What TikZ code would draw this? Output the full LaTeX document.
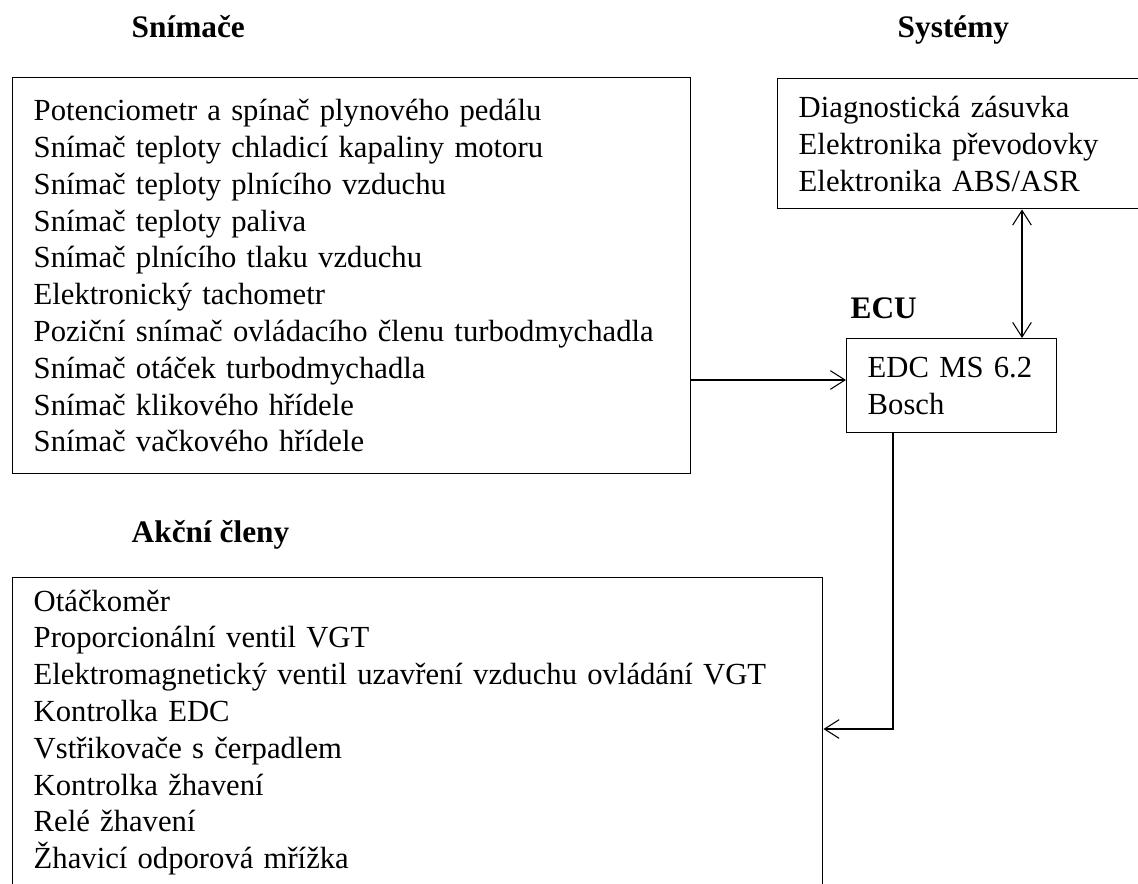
\documentclass[tikz,border=0pt]{standalone}
\usepackage{fontspec}
\setmainfont{Liberation Serif}
\usepackage{tikz}
\usetikzlibrary{positioning}
\usetikzlibrary{arrows.meta}
\tikzset{listbox/.style={draw, line width=1.1pt, align=left, anchor=north west, inner xsep=15.75pt, inner ysep=0pt, font=\fontsize{23}{27.6}\selectfont}}
\tikzset{title/.style={font=\fontsize{23.5}{28}\selectfont\bfseries, anchor=base west}}
\tikzset{spoj/.style={line width=0.8pt, >={Straight Barb[length=11pt, width=14pt, line width=0.8pt]}}}

\begin{document}
\begin{tikzpicture}[x=0.75pt, y=-0.75pt]
\useasboundingbox (0,0) rectangle (1138,883);
% nadpisy
\node[title] (t1) at (127,37) {Snímače};
\node[title] (t2) at (893,37) {Systémy};
\node[title] (t3) at (846,318) {ECU};
\node[title] (t4) at (127,542) {Akční členy};
% bloky
\node[listbox, text width=477pt, minimum height=297pt] (snim) at (12,77) {Potenciometr a spínač plynového pedálu\\
Snímač teploty chladicí kapaliny motoru\\
Snímač teploty plnícího vzduchu\\
Snímač teploty paliva\\
Snímač plnícího tlaku vzduchu\\
Elektronický tachometr\\
Poziční snímač ovládacího členu turbodmychadla\\
Snímač otáček turbodmychadla\\
Snímač klikového hřídele\\
Snímač vačkového hřídele};
\node[listbox, text width=240pt, minimum height=97.5pt] (sys) at (777,78) {Diagnostická zásuvka\\
Elektronika převodovky\\
Elektronika ABS/ASR};
\node[listbox, text width=126pt, minimum height=70.5pt] (ecu) at (846,338) {EDC MS 6.2\\
Bosch};
\node[listbox, text width=576pt, inner ysep=9pt] (akc) at (12,577) {Otáčkoměr\\
Proporcionální ventil VGT\\
Elektromagnetický ventil uzavření vzduchu ovládání VGT\\
Kontrolka EDC\\
Vstřikovače s čerpadlem\\
Kontrolka žhavení\\
Relé žhavení\\
Žhavicí odporová mřížka};
% spojeni
\coordinate (vstup) at (snim.east |- 0,380);
\coordinate (nahoru) at (1022,338);
\coordinate (ecuout) at (893,432);
\coordinate (ohyb) at (893,729);
\draw[spoj,->] (vstup) -- (ecu.west |- vstup);
\draw[spoj,<->] (sys.south -| nahoru) -- (nahoru);
\draw[spoj,->] (ecuout) -- (ohyb) -- (akc.east |- ohyb);
\end{tikzpicture}
\end{document}
